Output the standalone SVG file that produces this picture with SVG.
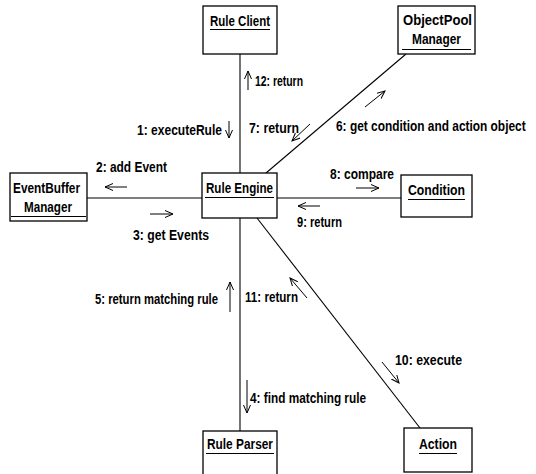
<svg xmlns="http://www.w3.org/2000/svg" width="536" height="474" viewBox="0 0 536 474">
<style>
.box{fill:#fff;stroke:#000;stroke-width:1.3}
.ul{stroke:#000;stroke-width:1}
.conn{stroke:#000;stroke-width:1.1;fill:none}
.arr{stroke:#000;stroke-width:1;fill:none;marker-end:url(#ah)}
text{font-family:"Liberation Sans Narrow","Liberation Sans",Arial,sans-serif;font-weight:bold;font-size:14px;fill:#000}
</style>
<defs>
<marker id="ah" markerWidth="10" markerHeight="8" refX="8" refY="4" orient="auto" markerUnits="userSpaceOnUse">
<path d="M0,0.5 L8,4 L0,7.5" fill="none" stroke="#000" stroke-width="1"/>
</marker>
</defs>
<rect width="536" height="474" fill="#fff"/>
<g id="connectors">
<line class="conn" x1="240" y1="54" x2="240" y2="173"/>
<line class="conn" x1="240" y1="218" x2="240" y2="431"/>
<line class="conn" x1="87" y1="198" x2="202" y2="198"/>
<line class="conn" x1="277" y1="198" x2="401" y2="198"/>
<line class="conn" x1="266" y1="173" x2="406" y2="54"/>
<line class="conn" x1="257" y1="218" x2="420" y2="428"/>
<line class="arr" x1="248" y1="90" x2="248" y2="71"/>
<text x="255" y="86" textLength="48" lengthAdjust="spacingAndGlyphs">12: return</text>
<line class="arr" x1="229" y1="121" x2="229" y2="138"/>
<text x="137" y="135" textLength="85" lengthAdjust="spacingAndGlyphs">1: executeRule</text>
<line class="arr" x1="310" y1="124" x2="292" y2="141"/>
<text x="249" y="133" textLength="50" lengthAdjust="spacingAndGlyphs">7: return</text>
<line class="arr" x1="365" y1="107" x2="385" y2="91"/>
<text transform="translate(336 131) scale(0.85 1)" x="0" y="0">6: get condition and action object</text>
<line class="arr" x1="127" y1="187" x2="105" y2="187"/>
<text x="96" y="172" textLength="71" lengthAdjust="spacingAndGlyphs">2: add Event</text>
<line class="arr" x1="150" y1="214" x2="173" y2="214"/>
<text x="133" y="240" textLength="76" lengthAdjust="spacingAndGlyphs">3: get Events</text>
<line class="arr" x1="356" y1="188" x2="379" y2="188"/>
<text x="330" y="179" textLength="64" lengthAdjust="spacingAndGlyphs">8: compare</text>
<line class="arr" x1="320" y1="206" x2="298" y2="206"/>
<text x="297" y="227" textLength="45" lengthAdjust="spacingAndGlyphs">9: return</text>
<line class="arr" x1="230" y1="312" x2="230" y2="282"/>
<text x="95" y="304" textLength="123" lengthAdjust="spacingAndGlyphs">5: return matching rule</text>
<line class="arr" x1="307" y1="298" x2="290" y2="278"/>
<text x="245" y="302" textLength="53" lengthAdjust="spacingAndGlyphs">11: return</text>
<line class="arr" x1="247" y1="380" x2="247" y2="413"/>
<text x="250" y="403" textLength="116" lengthAdjust="spacingAndGlyphs">4: find matching rule</text>
<line class="arr" x1="382" y1="362" x2="399" y2="383"/>
<text x="395" y="365" textLength="67" lengthAdjust="spacingAndGlyphs">10: execute</text>
</g>
<g id="rule-client">
<rect class="box" x="203" y="6" width="74" height="48"/>
<text x="210" y="26" textLength="60" lengthAdjust="spacingAndGlyphs">Rule Client</text>
<line class="ul" x1="210" y1="29.5" x2="270" y2="29.5"/>
</g>
<g id="objectpool-manager">
<rect class="box" x="398" y="6" width="77" height="48"/>
<text x="403" y="25" textLength="69" lengthAdjust="spacingAndGlyphs">ObjectPool</text>
<text x="412" y="44" textLength="49" lengthAdjust="spacingAndGlyphs">Manager</text>
<line class="ul" x1="402" y1="49.5" x2="471" y2="49.5"/>
</g>
<g id="eventbuffer-manager">
<rect class="box" x="10" y="173" width="77" height="48"/>
<text x="13" y="193" textLength="67" lengthAdjust="spacingAndGlyphs">EventBuffer</text>
<text x="24" y="212" textLength="48" lengthAdjust="spacingAndGlyphs">Manager</text>
<line class="ul" x1="11" y1="216.5" x2="86" y2="216.5"/>
</g>
<g id="rule-engine">
<rect class="box" x="202" y="173" width="75" height="45"/>
<text x="206" y="193" textLength="67" lengthAdjust="spacingAndGlyphs">Rule Engine</text>
<line class="ul" x1="205" y1="197.5" x2="274" y2="197.5"/>
</g>
<g id="condition">
<rect class="box" x="401" y="175" width="71" height="42"/>
<text x="408" y="195" textLength="57" lengthAdjust="spacingAndGlyphs">Condition</text>
<line class="ul" x1="408" y1="199.5" x2="465" y2="199.5"/>
</g>
<g id="rule-parser">
<rect class="box" x="203" y="431" width="74" height="45"/>
<text x="207" y="449" textLength="66" lengthAdjust="spacingAndGlyphs">Rule Parser</text>
<line class="ul" x1="206" y1="453.5" x2="274" y2="453.5"/>
</g>
<g id="action">
<rect class="box" x="404" y="428" width="68" height="44"/>
<text x="419" y="449" textLength="38" lengthAdjust="spacingAndGlyphs">Action</text>
<line class="ul" x1="419" y1="453.5" x2="457" y2="453.5"/>
</g>
</svg>
